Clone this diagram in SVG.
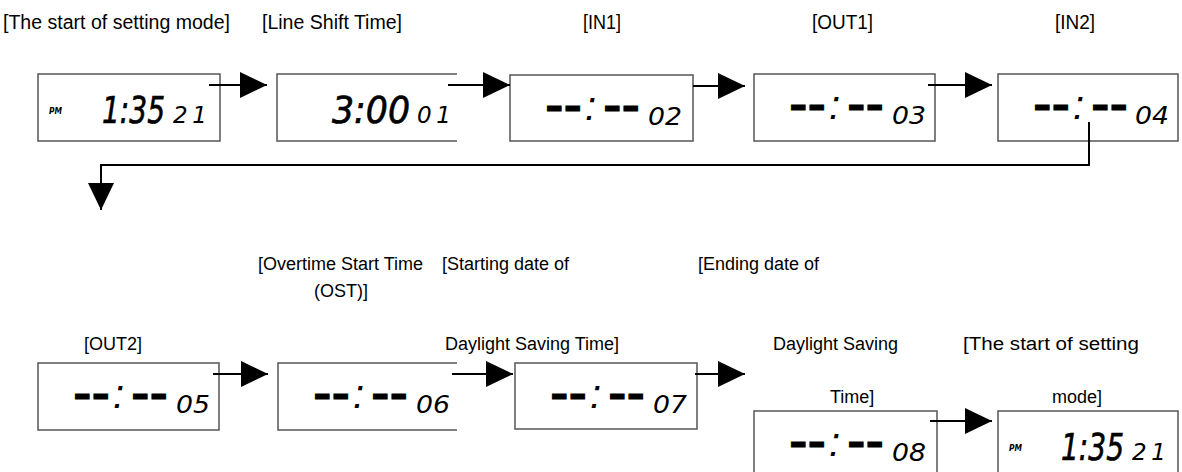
<svg xmlns="http://www.w3.org/2000/svg" width="1182" height="472" viewBox="0 0 1182 472">
<style>
.box{fill:#fff;stroke:#555;stroke-width:1.5}
.lbl{font-family:"Liberation Sans",Arial,sans-serif;font-size:18px;fill:#000}
.top{font-size:20px}
.pm{font-family:"DejaVu Sans",sans-serif;font-size:8px;font-weight:bold;font-style:italic;fill:#000}
.big{font-family:"DejaVu Sans",sans-serif;font-size:38px;font-style:italic;fill:#000;stroke:#000;stroke-width:0.7}
.sm{font-family:"DejaVu Sans",sans-serif;font-size:25px;font-style:italic;fill:#000}
.sec{font-family:"DejaVu Sans",sans-serif;font-size:23px;font-style:italic;fill:#000}
.dash{font-family:"DejaVu Sans",sans-serif;font-size:36px;font-weight:bold;fill:#000;stroke:#000;stroke-width:0.8}
.col{font-family:"Liberation Sans",Arial,sans-serif;font-size:40px;font-style:italic;fill:#000}
.conn{stroke:#000;stroke-width:2;fill:none}
</style>
<defs>
<marker id="ah" viewBox="0 0 27 26" refX="27" refY="13" markerWidth="27" markerHeight="26" markerUnits="userSpaceOnUse" orient="auto">
<path d="M0 0 L27 13 L0 26 Z" fill="#000"/>
</marker>
</defs>

<g id="labels">
<text class="lbl top" x="3" y="29" textLength="227" lengthAdjust="spacingAndGlyphs">[The start of setting mode]</text>
<text class="lbl top" x="262" y="29" textLength="140" lengthAdjust="spacingAndGlyphs">[Line Shift Time]</text>
<text class="lbl top" x="583" y="29" textLength="38" lengthAdjust="spacingAndGlyphs">[IN1]</text>
<text class="lbl top" x="812" y="29" textLength="61" lengthAdjust="spacingAndGlyphs">[OUT1]</text>
<text class="lbl top" x="1055" y="29" textLength="40" lengthAdjust="spacingAndGlyphs">[IN2]</text>
<text class="lbl" x="258" y="270">[Overtime Start Time</text>
<text class="lbl" x="314" y="297">(OST)]</text>
<text class="lbl" x="442" y="270">[Starting date of</text>
<text class="lbl" x="698" y="270">[Ending date of</text>
<text class="lbl" x="84" y="350">[OUT2]</text>
<text class="lbl" x="445" y="350">Daylight Saving Time]</text>
<text class="lbl" x="773" y="350">Daylight Saving</text>
<text class="lbl" x="963" y="350" textLength="176" lengthAdjust="spacingAndGlyphs">[The start of setting</text>
<text class="lbl" x="830" y="403">Time]</text>
<text class="lbl" x="1052" y="403">mode]</text>
</g>

<g id="node-clock1">
<rect class="box" x="38" y="74" width="182" height="67"/>
<text class="pm" x="49" y="114" textLength="13" lengthAdjust="spacingAndGlyphs">PM</text>
<text class="big" x="102" y="123" textLength="63" lengthAdjust="spacingAndGlyphs">1:35</text>
<text class="sec" x="173" y="123" textLength="34" lengthAdjust="spacing">21</text>
</g>

<g id="node-lineshift">
<path class="box" d="M457 74 H277 V141 H457"/>
<text class="big" x="332" y="123" textLength="78" lengthAdjust="spacingAndGlyphs">3:00</text>
<text class="sec" x="417" y="123" textLength="34" lengthAdjust="spacing">01</text>
</g>

<g id="node-in1">
<rect class="box" x="510" y="75" width="183" height="66"/>
<text class="dash" x="545" y="119" textLength="37" lengthAdjust="spacingAndGlyphs">--</text>
<text class="col" x="585" y="120">:</text>
<text class="dash" x="603" y="119" textLength="37" lengthAdjust="spacingAndGlyphs">--</text>
<text class="sm" x="648" y="125" textLength="34" lengthAdjust="spacingAndGlyphs">02</text>
</g>

<g id="node-out1">
<rect class="box" x="754" y="74" width="181" height="67"/>
<text class="dash" x="789" y="118" textLength="37" lengthAdjust="spacingAndGlyphs">--</text>
<text class="col" x="829" y="119">:</text>
<text class="dash" x="847" y="118" textLength="37" lengthAdjust="spacingAndGlyphs">--</text>
<text class="sm" x="892" y="124" textLength="34" lengthAdjust="spacingAndGlyphs">03</text>
</g>

<g id="node-in2">
<rect class="box" x="998" y="74" width="180" height="67"/>
<text class="dash" x="1033" y="118" textLength="37" lengthAdjust="spacingAndGlyphs">--</text>
<text class="col" x="1073" y="119">:</text>
<text class="dash" x="1091" y="118" textLength="37" lengthAdjust="spacingAndGlyphs">--</text>
<text class="sm" x="1135" y="124" textLength="34" lengthAdjust="spacingAndGlyphs">04</text>
</g>

<g id="node-out2">
<rect class="box" x="38" y="363" width="181" height="67"/>
<text class="dash" x="73" y="407" textLength="37" lengthAdjust="spacingAndGlyphs">--</text>
<text class="col" x="113" y="408">:</text>
<text class="dash" x="131" y="407" textLength="37" lengthAdjust="spacingAndGlyphs">--</text>
<text class="sm" x="176" y="413" textLength="34" lengthAdjust="spacingAndGlyphs">05</text>
</g>

<g id="node-ost">
<path class="box" d="M457 363 H278 V430 H457"/>
<text class="dash" x="313" y="407" textLength="37" lengthAdjust="spacingAndGlyphs">--</text>
<text class="col" x="353" y="408">:</text>
<text class="dash" x="371" y="407" textLength="37" lengthAdjust="spacingAndGlyphs">--</text>
<text class="sm" x="416" y="413" textLength="34" lengthAdjust="spacingAndGlyphs">06</text>
</g>

<g id="node-dst-start">
<rect class="box" x="515" y="363" width="182" height="66"/>
<text class="dash" x="550" y="407" textLength="37" lengthAdjust="spacingAndGlyphs">--</text>
<text class="col" x="590" y="408">:</text>
<text class="dash" x="608" y="407" textLength="37" lengthAdjust="spacingAndGlyphs">--</text>
<text class="sm" x="653" y="413" textLength="34" lengthAdjust="spacingAndGlyphs">07</text>
</g>

<g id="node-dst-end">
<rect class="box" x="754" y="411" width="183" height="72"/>
<text class="dash" x="789" y="455" textLength="37" lengthAdjust="spacingAndGlyphs">--</text>
<text class="col" x="829" y="456">:</text>
<text class="dash" x="847" y="455" textLength="37" lengthAdjust="spacingAndGlyphs">--</text>
<text class="sm" x="892" y="461" textLength="34" lengthAdjust="spacingAndGlyphs">08</text>
</g>

<g id="node-clock2">
<rect class="box" x="998" y="411" width="180" height="72"/>
<text class="pm" x="1009" y="451" textLength="13" lengthAdjust="spacingAndGlyphs">PM</text>
<text class="big" x="1061" y="460" textLength="63" lengthAdjust="spacingAndGlyphs">1:35</text>
<text class="sec" x="1132" y="460" textLength="34" lengthAdjust="spacing">21</text>
</g>

<g id="connectors">
<path class="conn" d="M209 85 H267" marker-end="url(#ah)"/>
<path class="conn" d="M448 85 H510" marker-end="url(#ah)"/>
<path class="conn" d="M693 86 H745" marker-end="url(#ah)"/>
<path class="conn" d="M928 85 H992" marker-end="url(#ah)"/>
<path class="conn" d="M1089 122 V165 H101 V210" marker-end="url(#ah)"/>
<path class="conn" d="M213 374 H268" marker-end="url(#ah)"/>
<path class="conn" d="M452 374 H513" marker-end="url(#ah)"/>
<path class="conn" d="M695 374 H745" marker-end="url(#ah)"/>
<path class="conn" d="M930 421 H992" marker-end="url(#ah)"/>
</g>
</svg>
